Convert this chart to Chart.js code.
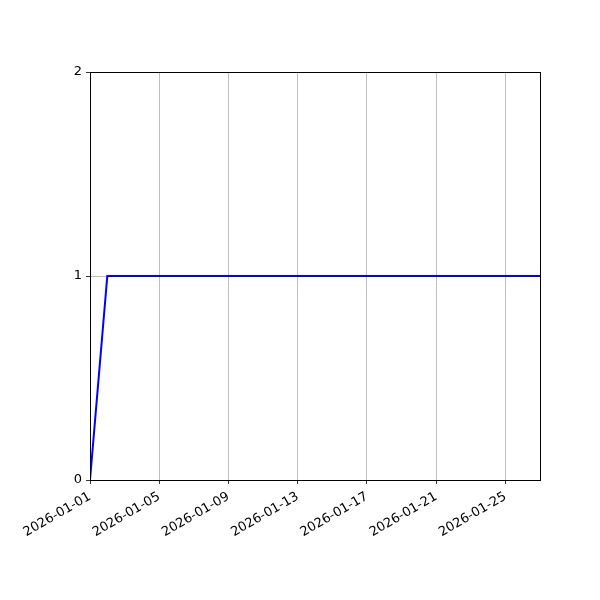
<!DOCTYPE html>
<html><head><meta charset="utf-8">
<script src="https://cdn.jsdelivr.net/npm/chart.js@4/dist/chart.umd.min.js"></script>
<style>html,body{margin:0;padding:0;background:#fff}#w{width:600px;height:600px}</style>
</head><body><div id="w"><canvas id="c" width="600" height="600"></canvas></div>
<script>
const startDate = "2026-01-01";
const dayOffsets = [0,1,2,3,4,5,6,7,8,9,10,11,12,13,14,15,16,17,18,19,20,21,22,23,24,25,26];
const values = [0,1,1,1,1,1,1,1,1,1,1,1,1,1,1,1,1,1,1,1,1,1,1,1,1,1,1];
const xTickOffsets = [0,4,8,12,16,20,24];
const yTicks = [0,1,2];

function fmt(off){
  const d = new Date(Date.UTC(2026,0,1) + off*86400000);
  return d.toISOString().slice(0,10);
}
const frame = {id:'frame', afterDraw(c){const a=c.chartArea,x=c.ctx;x.save();x.strokeStyle='#000';x.lineWidth=1;x.strokeRect(Math.round(a.left)+0.5,Math.round(a.top)+0.5,Math.round(a.right-a.left),Math.round(a.bottom-a.top));x.restore();}};
new Chart(document.getElementById('c'),{
  type:'line',
  data:{datasets:[{data:dayOffsets.map((o,i)=>({x:o,y:values[i]})),borderColor:'#0000ff',borderWidth:2,pointRadius:0,tension:0,fill:false}]},
  options:{
    responsive:false,animation:false,devicePixelRatio:1,
    layout:{padding:{top:72,right:60,left:0,bottom:0}},
    plugins:{legend:{display:false},tooltip:{enabled:false}},
    scales:{
      x:{type:'linear',min:0,max:26,
        afterBuildTicks(s){s.ticks=xTickOffsets.map(v=>({value:v}));},
        afterFit(s){s.height=120;},
        grid:{color:'#b0b0b0',lineWidth:0.8,tickColor:'#000',tickLength:4,drawTicks:true},
        border:{color:'#000',width:1},
        ticks:{color:'#000',font:{family:'DejaVu Sans',size:13},maxRotation:30,minRotation:30,padding:5,autoSkip:false,callback:v=>fmt(v)}},
      y:{type:'linear',min:0,max:2,
        afterBuildTicks(s){s.ticks=yTicks.map(v=>({value:v}));},
        afterFit(s){s.width=90;},
        grid:{color:'#b0b0b0',lineWidth:0.8,tickColor:'#000',tickLength:4},
        border:{color:'#000',width:1},
        ticks:{color:'#000',font:{family:'DejaVu Sans',size:13},padding:4}}
    }
  },
  plugins:[frame]
});
</script></body></html>
